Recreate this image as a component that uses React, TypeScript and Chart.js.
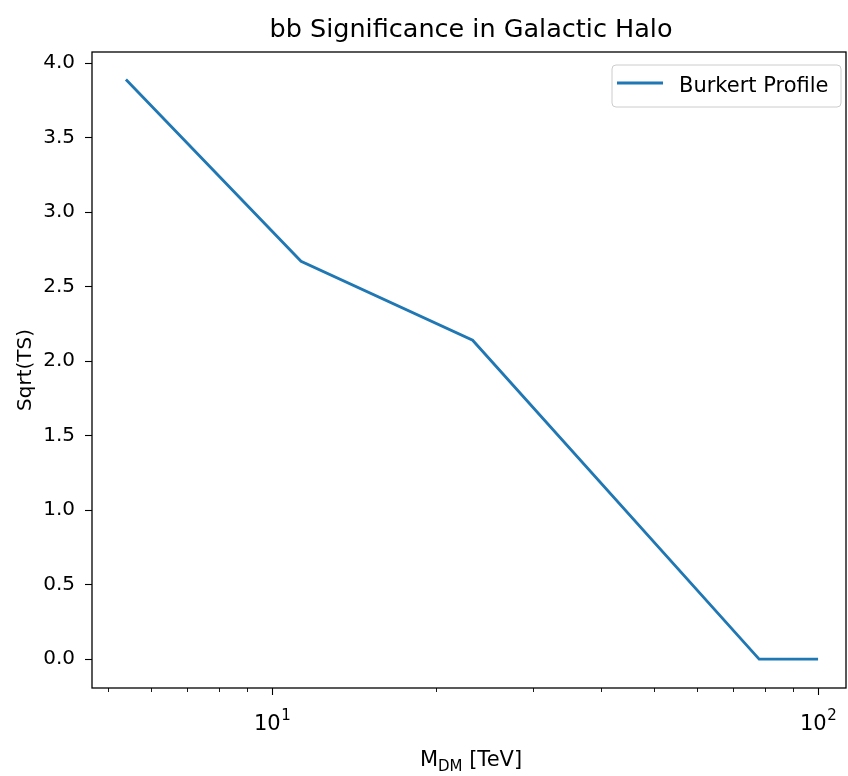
import React, { useEffect, useRef } from "react";
import { Chart, registerables } from "chart.js";

Chart.register(...registerables);

// ---- data ----
const massTeV = [5.4, 11.3, 23.3, 78, 100];
const sqrtTS = [3.89, 2.67, 2.14, 0.0, 0.0];
const seriesLabel = "Burkert Profile";
const titleText = "bb Significance in Galactic Halo";
const yLabelText = "Sqrt(TS)";
const xMajorTicks = [10, 100];
const xMajorExponents = ["1", "2"];
const xMinorTicks = [5, 6, 7, 8, 9, 20, 30, 40, 50, 60, 70, 80, 90];
const yTickStep = 0.5;

const FONT = "'DejaVu Sans', 'Liberation Sans', sans-serif";
const LINE_COLOR = "#1f77b4";

const decorPlugin = {
  id: "decor",
  afterDraw(chart: any) {
    const ctx = chart.ctx as CanvasRenderingContext2D;
    const area = chart.chartArea;
    const xs = chart.scales.x;
    ctx.save();

    // frame
    ctx.strokeStyle = "#000";
    ctx.lineWidth = 1.3;
    ctx.strokeRect(area.left, area.top, area.right - area.left, area.bottom - area.top);

    // x ticks
    ctx.lineWidth = 1.1;
    for (const v of xMajorTicks) {
      const px = Math.round(xs.getPixelForValue(v)) + 0.5;
      ctx.beginPath();
      ctx.moveTo(px, area.bottom);
      ctx.lineTo(px, area.bottom + 7);
      ctx.stroke();
    }
    ctx.lineWidth = 0.9;
    for (const v of xMinorTicks) {
      const px = Math.round(xs.getPixelForValue(v)) + 0.5;
      ctx.beginPath();
      ctx.moveTo(px, area.bottom);
      ctx.lineTo(px, area.bottom + 4);
      ctx.stroke();
    }

    // x tick labels 10^n
    ctx.fillStyle = "#000";
    ctx.textBaseline = "alphabetic";
    xMajorTicks.forEach((v, i) => {
      const px = xs.getPixelForValue(v);
      ctx.font = `21px ${FONT}`;
      const baseW = ctx.measureText("10").width;
      ctx.font = `15px ${FONT}`;
      const supW = ctx.measureText(xMajorExponents[i]).width;
      const total = baseW + supW;
      const x0 = px - total / 2;
      ctx.textAlign = "left";
      ctx.font = `21px ${FONT}`;
      ctx.fillText("10", x0, area.bottom + 42);
      ctx.font = `15px ${FONT}`;
      ctx.fillText(xMajorExponents[i], x0 + baseW + 0.5, area.bottom + 32);
    });

    // title
    const cx = (area.left + area.right) / 2;
    ctx.textAlign = "center";
    ctx.font = `25.5px ${FONT}`;
    ctx.fillText(titleText, cx + 2, 37);

    // x label: M_DM [TeV]
    ctx.font = `21px ${FONT}`;
    const mW = ctx.measureText("M").width;
    const restW = ctx.measureText(" [TeV]").width;
    ctx.font = `15px ${FONT}`;
    const subW = ctx.measureText("DM").width;
    const totalW = mW + subW + restW;
    let xx = cx - totalW / 2 + 2;
    const base = 766;
    ctx.textAlign = "left";
    ctx.font = `21px ${FONT}`;
    ctx.fillText("M", xx, base);
    xx += mW;
    ctx.font = `15px ${FONT}`;
    ctx.fillText("DM", xx, base + 5);
    xx += subW;
    ctx.font = `21px ${FONT}`;
    ctx.fillText(" [TeV]", xx, base);

    // y label
    ctx.save();
    ctx.translate(31, (area.top + area.bottom) / 2);
    ctx.rotate(-Math.PI / 2);
    ctx.textAlign = "center";
    ctx.font = `20px ${FONT}`;
    ctx.fillText(yLabelText, 0, 0);
    ctx.restore();

    // legend
    const lw = 229;
    const lh = 42;
    const lx = area.right - 5 - lw;
    const ly = area.top + 13;
    ctx.beginPath();
    const r = 4;
    ctx.moveTo(lx + r, ly);
    ctx.lineTo(lx + lw - r, ly);
    ctx.quadraticCurveTo(lx + lw, ly, lx + lw, ly + r);
    ctx.lineTo(lx + lw, ly + lh - r);
    ctx.quadraticCurveTo(lx + lw, ly + lh, lx + lw - r, ly + lh);
    ctx.lineTo(lx + r, ly + lh);
    ctx.quadraticCurveTo(lx, ly + lh, lx, ly + lh - r);
    ctx.lineTo(lx, ly + r);
    ctx.quadraticCurveTo(lx, ly, lx + r, ly);
    ctx.closePath();
    ctx.fillStyle = "rgba(255,255,255,0.8)";
    ctx.fill();
    ctx.strokeStyle = "#cccccc";
    ctx.lineWidth = 1;
    ctx.stroke();
    ctx.strokeStyle = LINE_COLOR;
    ctx.lineWidth = 2.8;
    ctx.beginPath();
    ctx.moveTo(lx + 5, ly + 18);
    ctx.lineTo(lx + 51, ly + 18);
    ctx.stroke();
    ctx.fillStyle = "#000";
    ctx.textAlign = "left";
    ctx.font = `21px ${FONT}`;
    ctx.fillText(seriesLabel, lx + 67, ly + 27);

    ctx.restore();
  },
};

export default function App() {
  const canvasRef = useRef<HTMLCanvasElement | null>(null);

  useEffect(() => {
    document.body.style.margin = "0";
    const canvas = canvasRef.current;
    if (!canvas) return;
    const points = massTeV.map((m, i) => ({ x: m, y: sqrtTS[i] }));
    const chart = new Chart(canvas, {
      type: "line",
      data: {
        datasets: [
          {
            label: seriesLabel,
            data: points,
            borderColor: LINE_COLOR,
            backgroundColor: LINE_COLOR,
            borderWidth: 2.8,
            pointRadius: 0,
            tension: 0,
            fill: false,
          },
        ],
      },
      options: {
        responsive: false,
        animation: false,
        devicePixelRatio: 1,
        layout: { padding: { top: 52, right: 2, left: 0, bottom: 0 } },
        plugins: {
          legend: { display: false },
          title: { display: false },
          tooltip: { enabled: false },
        },
        scales: {
          x: {
            type: "logarithmic",
            min: 4.68,
            max: 112.5,
            grid: { display: false },
            border: { display: false },
            ticks: { display: false },
            afterFit: (s: any) => {
              s.height = 88;
            },
          },
          y: {
            type: "linear",
            min: -0.194,
            max: 4.074,
            border: { display: false },
            grid: {
              drawOnChartArea: false,
              drawTicks: true,
              tickLength: 7,
              tickWidth: 1.1,
              tickColor: "#000",
              color: "#000",
            },
            ticks: {
              stepSize: yTickStep,
              includeBounds: false,
              padding: 10,
              color: "#000",
              font: { family: FONT, size: 20 },
              callback: (v: any) => Number(v).toFixed(1),
            },
            afterFit: (s: any) => {
              s.width = 92;
            },
          },
        },
      },
      plugins: [decorPlugin],
    } as any);
    return () => chart.destroy();
  }, []);

  return <canvas ref={canvasRef} width={848} height={776} style={{ display: "block" }} />;
}
